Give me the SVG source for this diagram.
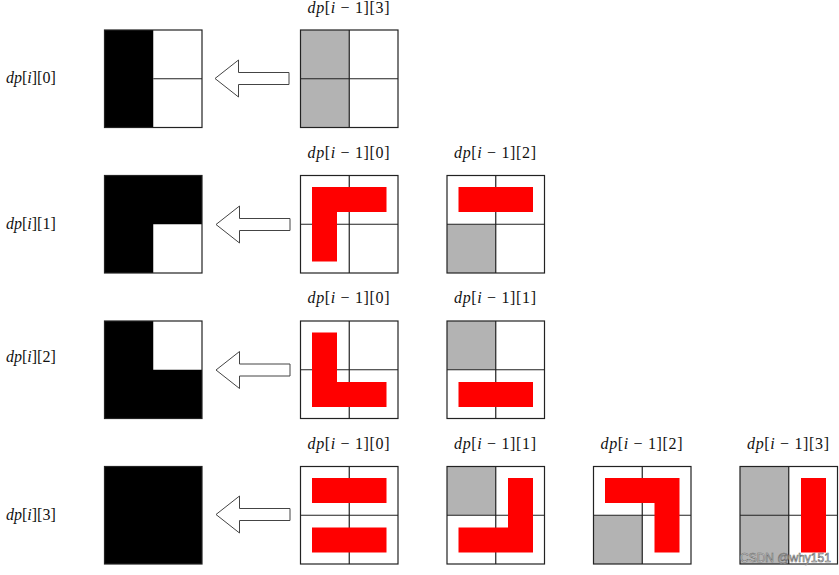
<svg xmlns="http://www.w3.org/2000/svg" width="839" height="575" viewBox="0 0 839 575">
<style>
.bg{fill:#fff}
.bd{fill:none;stroke:#222;stroke-width:1.2}
.ln{stroke:#222;stroke-width:1.2}
.gy{fill:#b3b3b3}
.rd{fill:#ff0000}
.bk{fill:#000}
.ar{fill:#fff;stroke:#444;stroke-width:1}
.t{font-family:'Liberation Serif','DejaVu Serif',serif;font-size:16px;fill:#111}
.it{font-style:italic}
.wm{font-family:'Liberation Sans','DejaVu Sans',sans-serif;font-size:12px;fill:#f2f2f2;stroke:#6a6a6a;stroke-width:0.6}
</style>
<defs>
<g id="grid">
<line class="ln" x1="48.75" y1="0" x2="48.75" y2="97.5"/>
<line class="ln" x1="0" y1="48.75" x2="97.5" y2="48.75"/>
</g>
<rect id="frame" class="bd" x="0" y="0" width="97.5" height="97.5"/>
<polygon id="arrow" class="ar" points="215,0 238.5,-18.5 238.5,-6 289,-6 289,6 238.5,6 238.5,18.5"/>
</defs>

<g id="labels-left">
<text class="t" font-family="Liberation Serif, serif" x="6" y="83"><tspan class="it">dp</tspan>[<tspan class="it">i</tspan>][0]</text>
<text class="t" font-family="Liberation Serif, serif" x="6" y="229"><tspan class="it">dp</tspan>[<tspan class="it">i</tspan>][1]</text>
<text class="t" font-family="Liberation Serif, serif" x="6" y="362"><tspan class="it">dp</tspan>[<tspan class="it">i</tspan>][2]</text>
<text class="t" font-family="Liberation Serif, serif" x="6" y="520"><tspan class="it">dp</tspan>[<tspan class="it">i</tspan>][3]</text>
</g>

<g id="r1-result" transform="translate(104.5,30)">
<rect class="bg" width="97.5" height="97.5"/>
<rect class="bk" width="48.75" height="97.5"/>
<line class="ln" x1="48.75" y1="48.75" x2="97.5" y2="48.75"/>
<use href="#frame"/>
</g>
<g id="r1-s3" transform="translate(300.5,30)">
<rect class="bg" width="97.5" height="97.5"/>
<rect class="gy" width="48.75" height="97.5"/>
<use href="#grid"/>
<use href="#frame"/>
<text class="t" font-family="Liberation Serif, serif" x="48" y="-17.5" text-anchor="middle" textLength="82" lengthAdjust="spacing"><tspan class="it">dp</tspan>[<tspan class="it">i</tspan> − 1][3]</text>
</g>

<g id="r2-result" transform="translate(104.5,175.5)">
<rect class="bk" width="97.5" height="97.5"/>
<rect class="bg" x="48.75" y="48.75" width="48.75" height="48.75"/>
<use href="#frame"/>
</g>
<g id="r2-s0" transform="translate(300.5,175.5)">
<rect class="bg" width="97.5" height="97.5"/>
<use href="#grid"/>
<path class="rd" d="M11.5,11.5 H86 V36.5 H36.5 V86 H11.5 Z"/>
<use href="#frame"/>
<text class="t" font-family="Liberation Serif, serif" x="48" y="-18" text-anchor="middle" textLength="82" lengthAdjust="spacing"><tspan class="it">dp</tspan>[<tspan class="it">i</tspan> − 1][0]</text>
</g>
<g id="r2-s2" transform="translate(447,175.5)">
<rect class="bg" width="97.5" height="97.5"/>
<rect class="gy" y="48.75" width="48.75" height="48.75"/>
<use href="#grid"/>
<rect class="rd" x="11.5" y="11.5" width="74.5" height="25"/>
<use href="#frame"/>
<text class="t" font-family="Liberation Serif, serif" x="48" y="-18" text-anchor="middle" textLength="82" lengthAdjust="spacing"><tspan class="it">dp</tspan>[<tspan class="it">i</tspan> − 1][2]</text>
</g>

<g id="r3-result" transform="translate(104.5,321)">
<rect class="bk" width="97.5" height="97.5"/>
<rect class="bg" x="48.75" y="0" width="48.75" height="48.75"/>
<use href="#frame"/>
</g>
<g id="r3-s0" transform="translate(300.5,321)">
<rect class="bg" width="97.5" height="97.5"/>
<use href="#grid"/>
<path class="rd" d="M11.5,11.5 H36.5 V61 H86 V86 H11.5 Z"/>
<use href="#frame"/>
<text class="t" font-family="Liberation Serif, serif" x="48" y="-18" text-anchor="middle" textLength="82" lengthAdjust="spacing"><tspan class="it">dp</tspan>[<tspan class="it">i</tspan> − 1][0]</text>
</g>
<g id="r3-s1" transform="translate(447,321)">
<rect class="bg" width="97.5" height="97.5"/>
<rect class="gy" width="48.75" height="48.75"/>
<use href="#grid"/>
<rect class="rd" x="11.5" y="61" width="74.5" height="25"/>
<use href="#frame"/>
<text class="t" font-family="Liberation Serif, serif" x="48" y="-18" text-anchor="middle" textLength="82" lengthAdjust="spacing"><tspan class="it">dp</tspan>[<tspan class="it">i</tspan> − 1][1]</text>
</g>

<g id="r4-result" transform="translate(104.5,466.5)">
<rect class="bk" width="97.5" height="97.5"/>
<use href="#frame"/>
</g>
<g id="r4-s0" transform="translate(300.5,466.5)">
<rect class="bg" width="97.5" height="97.5"/>
<use href="#grid"/>
<rect class="rd" x="11.5" y="11.5" width="74.5" height="25"/>
<rect class="rd" x="11.5" y="61" width="74.5" height="25"/>
<use href="#frame"/>
<text class="t" font-family="Liberation Serif, serif" x="48" y="-18" text-anchor="middle" textLength="82" lengthAdjust="spacing"><tspan class="it">dp</tspan>[<tspan class="it">i</tspan> − 1][0]</text>
</g>
<g id="r4-s1" transform="translate(447,466.5)">
<rect class="bg" width="97.5" height="97.5"/>
<rect class="gy" width="48.75" height="48.75"/>
<use href="#grid"/>
<path class="rd" d="M61,11.5 H86 V86 H11.5 V61 H61 Z"/>
<use href="#frame"/>
<text class="t" font-family="Liberation Serif, serif" x="48" y="-18" text-anchor="middle" textLength="82" lengthAdjust="spacing"><tspan class="it">dp</tspan>[<tspan class="it">i</tspan> − 1][1]</text>
</g>
<g id="r4-s2" transform="translate(593.5,466.5)">
<rect class="bg" width="97.5" height="97.5"/>
<rect class="gy" y="48.75" width="48.75" height="48.75"/>
<use href="#grid"/>
<path class="rd" d="M11.5,11.5 H86 V86 H61 V36.5 H11.5 Z"/>
<use href="#frame"/>
<text class="t" font-family="Liberation Serif, serif" x="48" y="-18" text-anchor="middle" textLength="82" lengthAdjust="spacing"><tspan class="it">dp</tspan>[<tspan class="it">i</tspan> − 1][2]</text>
</g>
<g id="r4-s3" transform="translate(740,466.5)">
<rect class="bg" width="97.5" height="97.5"/>
<rect class="gy" width="48.75" height="97.5"/>
<use href="#grid"/>
<rect class="rd" x="61" y="11.5" width="25" height="74.5"/>
<use href="#frame"/>
<text class="t" font-family="Liberation Serif, serif" x="48" y="-18" text-anchor="middle" textLength="82" lengthAdjust="spacing"><tspan class="it">dp</tspan>[<tspan class="it">i</tspan> − 1][3]</text>
</g>

<g id="connectors">
<use href="#arrow" transform="translate(0,78.5)"/>
<use href="#arrow" transform="translate(1,224.5)"/>
<use href="#arrow" transform="translate(1,370)"/>
<use href="#arrow" transform="translate(1,514.5)"/>
</g>

<text class="wm" x="740" y="562">CSDN @why151</text>
</svg>
